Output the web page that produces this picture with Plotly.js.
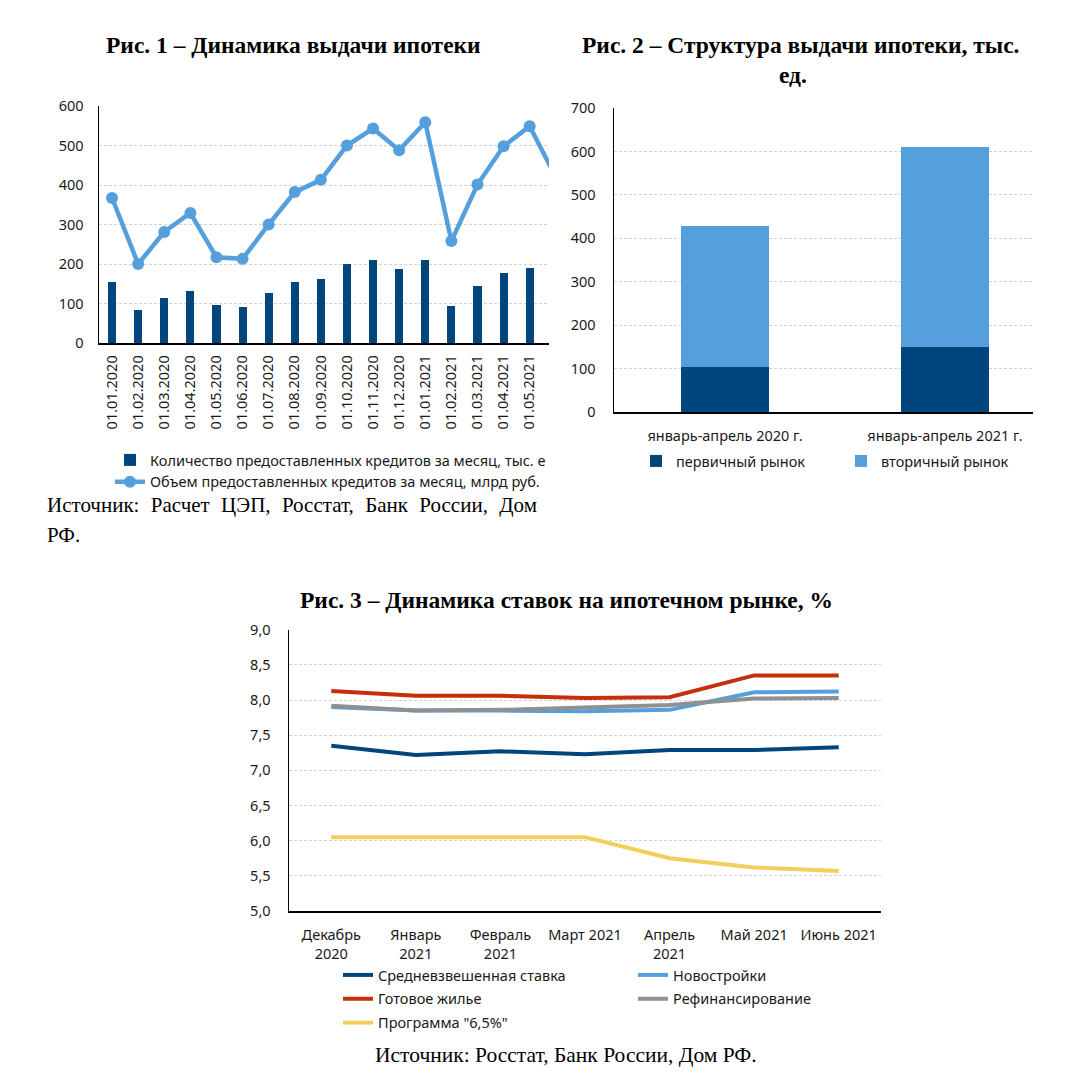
<!DOCTYPE html>
<html><head><meta charset="utf-8">
<script src="https://cdn.plot.ly/plotly-3.0.1.min.js"></script>
<style>
body{margin:0;background:#fff}
#wrap{position:relative;width:1081px;height:1081px;overflow:hidden}
#chart{position:absolute;left:0;top:0;width:1081px;height:1081px}
.src{position:absolute;font-family:"Liberation Serif","Times New Roman",serif;font-size:21px;line-height:30px;color:#000}
#src1a{left:47px;top:490px;width:490px;text-align:justify;text-align-last:justify;white-space:nowrap}
#src1b{left:47px;top:520px}
</style>
</head><body>
<div id="wrap"><div id="chart"></div>
<div class="src" id="src1a">Источник: Расчет ЦЭП, Росстат, Банк России, Дом</div>
<div class="src" id="src1b">РФ.</div>
</div>
<script>
// ---- Chart 1 data ----
const months1 = ['01.01.2020','01.02.2020','01.03.2020','01.04.2020','01.05.2020','01.06.2020','01.07.2020','01.08.2020','01.09.2020','01.10.2020','01.11.2020','01.12.2020','01.01.2021','01.02.2021','01.03.2021','01.04.2021','01.05.2021','01.06.2021'];
const loansCount = [155,84,115,132,97,92,127,155,163,199,211,188,211,94,145,178,190];
const loansVolume = [367,200,281,329,217,213,300,382,413,500,543,488,559,258,401,498,549,420];
const name1a = 'Количество предоставленных кредитов за месяц, тыс. е';
const name1b = 'Объем предоставленных кредитов за месяц, млрд руб.';

// ---- Chart 2 data ----
const periods2 = ['январь-апрель 2020 г.','январь-апрель 2021 г.'];
const primaryMarket = [104,150];
const secondaryMarket = [325,460];

// ---- Chart 3 data ----
const months3 = ['Декабрь<br>2020','Январь<br>2021','Февраль<br>2021','Март 2021','Апрель<br>2021','Май 2021','Июнь 2021'];
const rateAvg = [7.35,7.22,7.27,7.23,7.29,7.29,7.33];
const rateNew = [7.90,7.85,7.85,7.84,7.86,8.11,8.12];
const rateReady = [8.13,8.06,8.06,8.03,8.04,8.35,8.35];
const rateRefi = [7.92,7.85,7.86,7.90,7.93,8.02,8.03];
const rateProg = [6.05,6.05,6.05,6.05,5.75,5.62,5.57];

const W = 1081;
const px = v => v / W;
const py = v => 1 - v / W;
const DARK = '#00457C', LIGHT = '#55A0DC', RED = '#C4300A', GREY = '#8E9194', YEL = '#F0CF5A';
const TF = {family: 'Noto Sans, Open Sans, sans-serif', size: 14.5, color: '#1a1a1a'};
const grid = {showgrid: true, gridcolor: '#D2D2D2', gridwidth: 1, griddash: '3px,2px'};

const traces = [
  {type: 'bar', x: months1.slice(0, loansCount.length), y: loansCount, name: name1a, marker: {color: DARK}, width: 0.31,
   xaxis: 'x', yaxis: 'y', legend: 'legend'},
  {type: 'scatter', mode: 'lines+markers', x: months1, y: loansVolume, name: name1b,
   line: {color: LIGHT, width: 4.5}, marker: {color: LIGHT, size: 12}, xaxis: 'x', yaxis: 'y', legend: 'legend', cliponaxis: true},

  {type: 'bar', x: periods2, y: primaryMarket, name: 'первичный рынок', marker: {color: DARK}, width: 0.4,
   xaxis: 'x2', yaxis: 'y2', legend: 'legend2'},
  {type: 'bar', x: periods2, y: secondaryMarket, name: 'вторичный рынок', marker: {color: LIGHT}, width: 0.4,
   xaxis: 'x2', yaxis: 'y2', legend: 'legend2'},

  {type: 'scatter', mode: 'lines', x: months3, y: rateAvg, name: 'Средневзвешенная ставка', legendgroup: 'g1', line: {color: DARK, width: 4}, xaxis: 'x3', yaxis: 'y3', legend: 'legend3'},
  {type: 'scatter', mode: 'lines', x: months3, y: rateNew, name: 'Новостройки', legendgroup: 'g2', line: {color: LIGHT, width: 4}, xaxis: 'x3', yaxis: 'y3', legend: 'legend4'},
  {type: 'scatter', mode: 'lines', x: months3, y: rateReady, name: 'Готовое жилье', legendgroup: 'g3', line: {color: RED, width: 4}, xaxis: 'x3', yaxis: 'y3', legend: 'legend3'},
  {type: 'scatter', mode: 'lines', x: months3, y: rateRefi, name: 'Рефинансирование', legendgroup: 'g4', line: {color: GREY, width: 4}, xaxis: 'x3', yaxis: 'y3', legend: 'legend4'},
  {type: 'scatter', mode: 'lines', x: months3, y: rateProg, name: 'Программа "6,5%"', legendgroup: 'g5', line: {color: YEL, width: 4}, xaxis: 'x3', yaxis: 'y3', legend: 'legend3'}
];

const titleFont = {family: 'Liberation Serif, Times New Roman, serif', size: 23.5, color: '#000'};
const legBase = {font: TF, bgcolor: 'rgba(0,0,0,0)', borderwidth: 0, xanchor: 'left', yanchor: 'top'};

const layout = {
  width: W, height: W, margin: {l: 0, r: 0, t: 0, b: 0},
  paper_bgcolor: '#fff', plot_bgcolor: '#fff',
  separators: ', ', barmode: 'stack', showlegend: true,
  font: TF,
  xaxis: {domain: [px(99), px(549)], type: 'category', range: [-0.5, 16.74], tickangle: -90, tickfont: TF,
          showline: true, linecolor: '#000', linewidth: 1.5, ticks: '', showgrid: false, anchor: 'y', ticklabelstandoff: 5},
  yaxis: Object.assign({domain: [py(343), py(106)], range: [0, 600], dtick: 100, tickfont: TF, showline: true, linecolor: '#000', linewidth: 1.5,
          ticks: '', zeroline: false, anchor: 'x', ticklabelstandoff: 11}, grid),
  xaxis2: {domain: [px(614), px(1033)], type: 'category', range: [-0.505, 1.4], tickfont: TF,
          showline: true, linecolor: '#000', linewidth: 1.5, ticks: '', showgrid: false, anchor: 'y2', ticklabelstandoff: 10},
  yaxis2: Object.assign({domain: [py(412), py(108)], range: [0, 700], dtick: 100, tickfont: TF, showline: true, linecolor: '#000', linewidth: 1.5,
          ticks: '', zeroline: false, anchor: 'x2', ticklabelstandoff: 14}, grid),
  xaxis3: {domain: [px(289), px(881)], type: 'category', range: [-0.5, 6.5], tickfont: TF,
          showline: true, linecolor: '#000', linewidth: 1.5, ticks: '', showgrid: false, anchor: 'y3', ticklabelstandoff: 10},
  yaxis3: Object.assign({domain: [py(911), py(629.7)], range: [5, 9], dtick: 0.5, tickformat: '.1f', tickfont: TF, showline: true, linecolor: '#000', linewidth: 1.5,
          ticks: '', zeroline: false, anchor: 'x3', ticklabelstandoff: 14}, grid),
  legend: Object.assign({}, legBase, {x: px(110), y: py(444), orientation: 'v', traceorder: 'normal'}),
  legend2: Object.assign({}, legBase, {x: px(636), y: py(445), orientation: 'h', entrywidth: 160, entrywidthmode: 'pixels', traceorder: 'normal'}),
  legend3: Object.assign({}, legBase, {x: px(338), y: py(959), orientation: 'v', traceorder: 'grouped', tracegroupgap: 2}),
  legend4: Object.assign({}, legBase, {x: px(633), y: py(959), orientation: 'v', traceorder: 'grouped', tracegroupgap: 2}),
  annotations: [
    {text: '<b>Рис. 1 – Динамика выдачи ипотеки</b>', x: px(293), y: py(45), xref: 'paper', yref: 'paper', showarrow: false, font: titleFont, xanchor: 'center', yanchor: 'middle'},
    {text: '<b>Рис. 2 – Структура выдачи ипотеки, тыс.</b>', x: px(800), y: py(45), xref: 'paper', yref: 'paper', showarrow: false, font: titleFont, xanchor: 'center', yanchor: 'middle'},
    {text: '<b>ед.</b>', x: px(793), y: py(75), xref: 'paper', yref: 'paper', showarrow: false, font: titleFont, xanchor: 'center', yanchor: 'middle'},
    {text: '<b>Рис. 3 – Динамика ставок на ипотечном рынке, %</b>', x: px(566), y: py(600), xref: 'paper', yref: 'paper', showarrow: false, font: titleFont, xanchor: 'center', yanchor: 'middle'},
    {text: 'Источник: Росстат, Банк России, Дом РФ.', x: px(566), y: py(1055), xref: 'paper', yref: 'paper', showarrow: false,
     font: {family: 'Liberation Serif, Times New Roman, serif', size: 21.5, color: '#000'}, xanchor: 'center', yanchor: 'middle'}
  ]
};

Plotly.newPlot('chart', traces, layout, {displayModeBar: false, staticPlot: true});
</script>
</body></html>
